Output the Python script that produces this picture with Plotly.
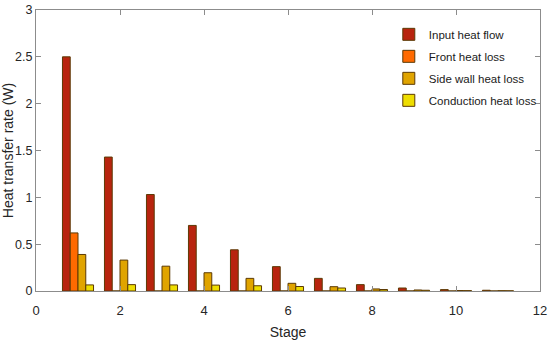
import plotly.graph_objects as go

stages = [1, 2, 3, 4, 5, 6, 7, 8, 9, 10, 11]
input_heat = [2.5, 1.43, 1.03, 0.70, 0.44, 0.26, 0.135, 0.068, 0.032, 0.015, 0.008]
front_loss = [0.62, 0, 0, 0, 0, 0, 0, 0, 0, 0, 0]
side_loss = [0.39, 0.33, 0.265, 0.195, 0.135, 0.082, 0.046, 0.022, 0.011, 0.005, 0.003]
cond_loss = [0.065, 0.068, 0.065, 0.063, 0.056, 0.048, 0.032, 0.016, 0.008, 0.004, 0.002]

series = [
    ("Input heat flow", input_heat, "#B8240E"),
    ("Front heat loss", front_loss, "#FF6A00"),
    ("Side wall heat loss", side_loss, "#E0A400"),
    ("Conduction heat loss", cond_loss, "#EEDD00"),
]

font_fam = "Liberation Sans, Arial"

fig = go.Figure()
for i, (name, vals, col) in enumerate(series):
    fig.add_trace(go.Bar(
        x=stages, y=vals, name=name, legendgroup=f"g{i}",
        marker=dict(color=col, line=dict(color="#5C3A05", width=1)),
    ))

axis_common = dict(
    showline=True, linecolor="#8C8C8C", linewidth=1, mirror="ticks",
    ticks="inside", ticklen=5, tickcolor="#8C8C8C",
    showgrid=False, zeroline=False, automargin=False,
)

fig.update_layout(
    width=550, height=347,
    margin=dict(l=36, r=10, t=10, b=56, autoexpand=False),
    paper_bgcolor="white", plot_bgcolor="white",
    barmode="group", bargap=0.26, bargroupgap=0,
    font=dict(family=font_fam, color="#262626"),
    xaxis=dict(range=[0, 12], tickvals=[0, 2, 4, 6, 8, 10, 12], ticklabelstandoff=7,
               tickfont=dict(size=13, color="#262626", family=font_fam),
               title=dict(text="Stage", font=dict(size=14), standoff=10), **axis_common),
    yaxis=dict(range=[0, 3], tickvals=[0, 0.5, 1, 1.5, 2, 2.5, 3], ticklabelstandoff=0,
               tickfont=dict(size=12.5, color="#262626", family=font_fam),
               title=dict(text="Heat transfer rate (W)", font=dict(size=14), standoff=0), **axis_common),
    legend=dict(x=0.70, y=0.965, xanchor="left", yanchor="top",
                bgcolor="rgba(255,255,255,0)", borderwidth=0,
                font=dict(size=11.5, color="#1a1a1a"), tracegroupgap=3),
)

fig.write_html("out.html", config={"displayModeBar": False},
               post_script="document.body.style.margin='0';")
